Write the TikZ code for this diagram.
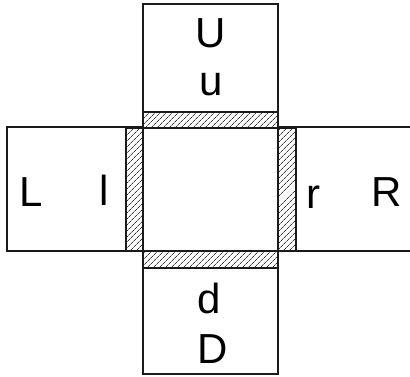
\documentclass[tikz,border=0pt]{standalone}
\usepackage{fontspec}
\setmainfont{Liberation Sans}
\usetikzlibrary{patterns.meta}
\definecolor{borde}{HTML}{1A1A1A}
\definecolor{rayas}{HTML}{3A3A3A}
\tikzset{
  caja/.style={draw=borde, line width=1.3pt},
  rayado/.style={draw=borde, line width=1.3pt,
    pattern={Lines[angle=45, distance=4pt, line width=0.7pt]}, pattern color=rayas},
  letra/.style={anchor=base, inner sep=0pt, font=\fontsize{42}{50}\selectfont}
}
\begin{document}
\begin{tikzpicture}[x=1pt, y=-1pt]
				\useasboundingbox (0,0) rectangle (410,376);
				\clip (0,0) rectangle (410,376);
				\draw[caja] (143,4) rectangle (278,128);
				\draw[caja] (143,251) rectangle (278,374);
				\draw[caja] (7,127) rectangle (143,251);
				\draw[caja] (278,127) rectangle (420,251);
				\draw[caja] (143,128) rectangle (278,251);
				\draw[rayado] (143,112) rectangle (278,128);
				\draw[rayado] (143,251) rectangle (278,268);
				\draw[rayado] (126,128) rectangle (143,251);
				\draw[rayado] (278,128) rectangle (296,251);
				\node[letra] (U) at (211,47) {U};
				\node[letra] (u) at (211,95) {u};
				\node[letra] (d) at (209,313) {d};
				\node[letra] (D) at (213,363) {D};
				\node[letra] (L) at (31,206) {L};
				\node[letra] (l) at (104,205) {l};
				\node[letra] (r) at (313,208) {r};
				\node[letra] (R) at (387,206) {R};
			\end{tikzpicture}
\end{document}
